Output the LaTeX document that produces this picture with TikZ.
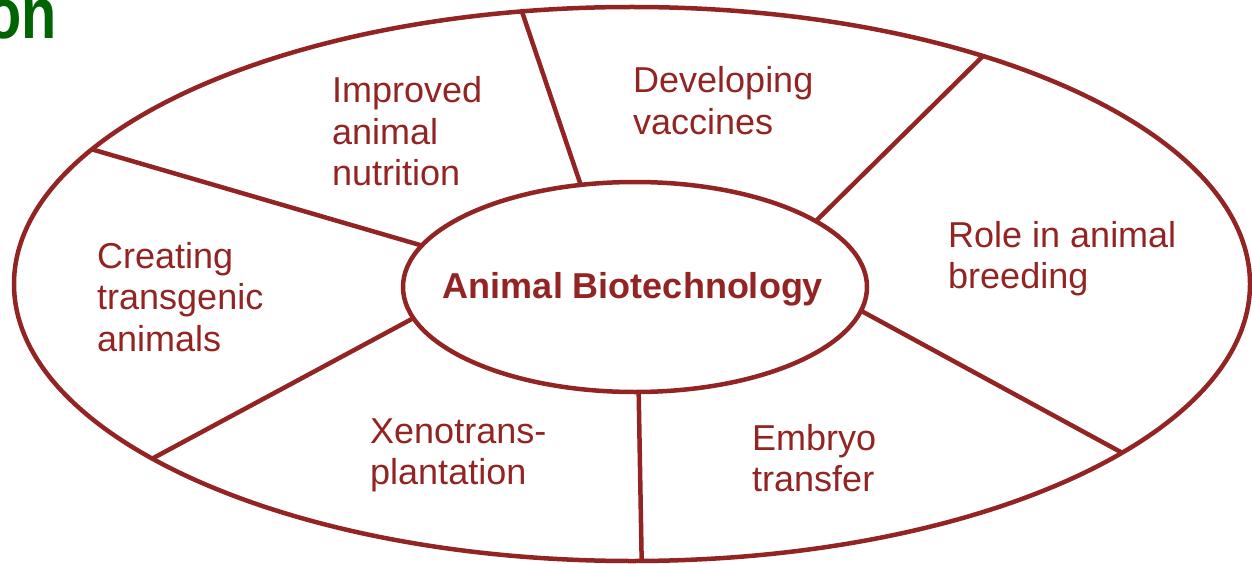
\documentclass[tikz,border=0pt]{standalone}
\usepackage{fontspec}
\setmainfont{Liberation Sans}
\usetikzlibrary{shapes.geometric}
\definecolor{brick}{HTML}{922424}
\definecolor{titlegreen}{HTML}{006400}
\newcommand{\lines}[1]{\begin{tabular}[t]{@{}l@{}}#1\end{tabular}}
\begin{document}
\begin{tikzpicture}[x=1pt,y=-1pt,
  rim/.style={draw=brick, line width=4.5pt, shape=ellipse, inner sep=0pt, outer sep=0pt},
  spoke/.style={draw=brick, line width=4.5pt},
  label/.style={text=brick, inner sep=0pt, anchor=base west, font=\fontsize{36}{41.5}\selectfont},
]
\useasboundingbox (0,0) rectangle (1252,564);
\clip (0,0) rectangle (1252,564);
\node[text=titlegreen, inner sep=0pt, anchor=base east, font=\bfseries\fontsize{72}{80}\selectfont, xscale=0.8] (title) at (57,39) {on};
\node[rim, minimum width=1236pt, minimum height=554pt] (outer) at (632,284) {};
\node[rim, minimum width=464pt, minimum height=210pt] (inner) at (635,287) {};
\node[text=brick, inner sep=0pt, anchor=base, font=\bfseries\fontsize{36}{41.5}\selectfont] (core) at (633,298) {Animal Biotechnology};
\draw[spoke] (inner.118.9) -- (outer.112.9);
\draw[spoke] (inner.20.7) -- (outer.33.3);
\draw[spoke] (inner.-6.4) -- (outer.-19.9);
\draw[spoke] (inner.-88.4) -- (outer.-88.4);
\draw[spoke] (inner.188.8) -- (outer.200.3);
\draw[spoke] (inner.169.9) -- (outer.166.0);
\node[label] (nutrition) at (332,103) {\lines{Improved\\animal\\nutrition}};
\node[label] (vaccines) at (633,93) {\lines{Developing\\vaccines}};
\node[label] (breeding) at (948,247) {\lines{Role in animal\\breeding}};
\node[label] (transgenic) at (97,268) {\lines{Creating\\transgenic\\animals}};
\node[label] (xeno) at (370,443) {\lines{Xenotrans-\\plantation}};
\node[label] (embryo) at (752,450) {\lines{Embryo\\transfer}};
\end{tikzpicture}
\end{document}
